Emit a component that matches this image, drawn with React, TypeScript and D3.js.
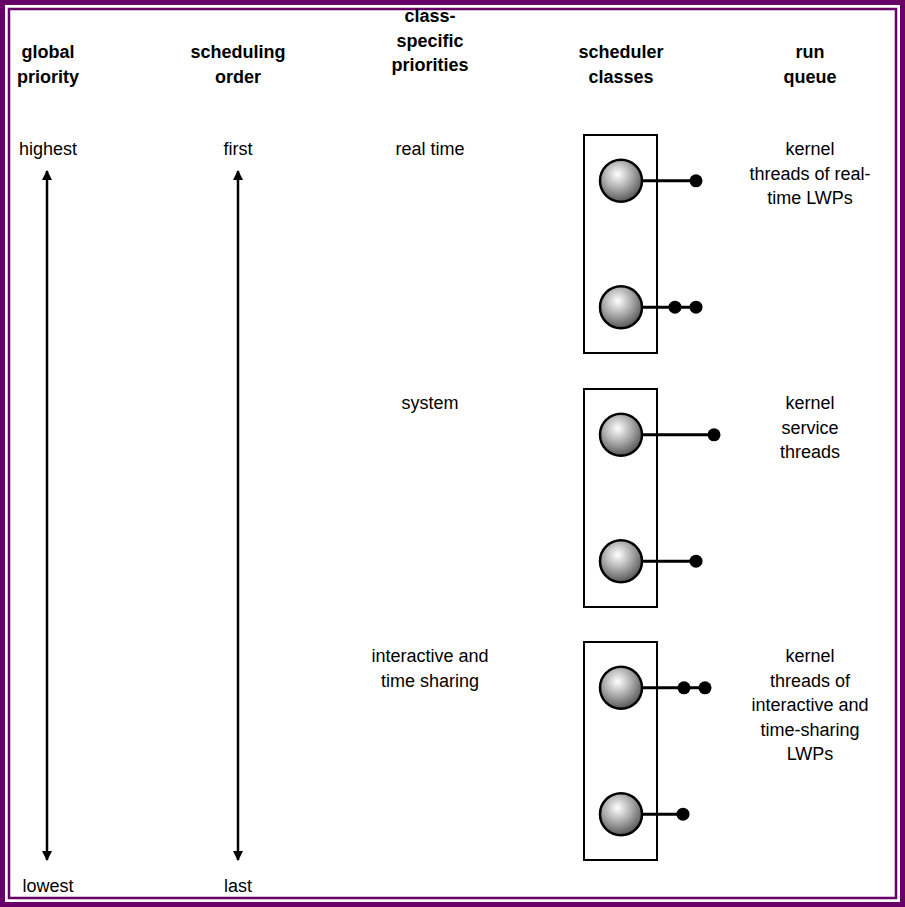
import React from 'react'
import * as d3 from 'd3'

const headers = [
  { x: 48, lines: ['global', 'priority'], y: 58 },
  { x: 238, lines: ['scheduling', 'order'], y: 58 },
  { x: 430, lines: ['class-', 'specific', 'priorities'], y: 22 },
  { x: 621, lines: ['scheduler', 'classes'], y: 58 },
  { x: 810, lines: ['run', 'queue'], y: 58 },
]
const classNames = [['real time'], ['system'], ['interactive and', 'time sharing']]
const queueLabels = [
  ['kernel', 'threads of real-', 'time LWPs'],
  ['kernel', 'service', 'threads'],
  ['kernel', 'threads of', 'interactive and', 'time-sharing', 'LWPs'],
]
// dot x positions per ball (top, bottom) for each class
const dots = [
  [[696], [675, 696]],
  [[714], [696]],
  [[684, 705], [683]],
]
const boxTops = [135, 389, 642]

export default function App() {
  const W = 905
  const H = 907
  const y = d3.scaleLinear().domain([0, 1]).range([135, 353])
  const purple = '#660066'
  const font = '"Liberation Sans", Arial, sans-serif'
  const lh = 24.5
  return (
    <svg width={W} height={H} style={{ position: 'absolute', left: 0, top: 0 }} fontFamily={font} fontSize={18}>
      <defs>
        <radialGradient id="ball" cx="0.42" cy="0.35" r="0.7">
          <stop offset="0" stopColor="#ffffff" />
          <stop offset="0.5" stopColor="#a8a8a8" />
          <stop offset="1" stopColor="#4a4a4a" />
        </radialGradient>
        <marker id="ah" viewBox="0 0 10 10" refX="9" refY="5" markerWidth="10" markerHeight="10" markerUnits="userSpaceOnUse" orient="auto-start-reverse">
          <path d="M0,0 L10,5 L0,10 z" fill="#000" />
        </marker>
      </defs>
      <rect x={0} y={0} width={W} height={H} fill="#fff" />
      <rect x={2.5} y={2.5} width={W - 5} height={H - 5} fill="none" stroke={purple} strokeWidth={5} />
      <rect x={9} y={9} width={W - 18} height={H - 18} fill="none" stroke={purple} strokeWidth={2.5} />
      {headers.map((h, i) => (
        <text key={i} x={h.x} textAnchor="middle" fontWeight="bold">
          {h.lines.map((l, j) => (
            <tspan key={j} x={h.x} y={h.y + j * lh}>{l}</tspan>
          ))}
        </text>
      ))}
      <text x={48} y={155} textAnchor="middle">highest</text>
      <text x={238} y={155} textAnchor="middle">first</text>
      <text x={48} y={892} textAnchor="middle">lowest</text>
      <text x={238} y={892} textAnchor="middle">last</text>
      {[47, 238].map((x) => (
        <line key={x} x1={x} x2={x} y1={171} y2={860} stroke="#000" strokeWidth={2.5} markerStart="url(#ah)" markerEnd="url(#ah)" />
      ))}
      {boxTops.map((top, i) => {
        const off = top - boxTops[0]
        const balls = [y(0.21) + off, y(0.79) + off]
        return (
          <g key={i}>
            <text x={430} textAnchor="middle">
              {classNames[i].map((l, j) => (
                <tspan key={j} x={430} y={top + 20 + j * lh}>{l}</tspan>
              ))}
            </text>
            <text x={810} textAnchor="middle">
              {queueLabels[i].map((l, j) => (
                <tspan key={j} x={810} y={top + 20 + j * lh}>{l}</tspan>
              ))}
            </text>
            <rect x={584} y={top} width={73} height={y(1) - y(0)} fill="none" stroke="#000" strokeWidth={2} />
            {balls.map((by, k) => {
              const ds = dots[i][k]
              return (
                <g key={k}>
                  <line x1={621} x2={d3.max(ds)!} y1={by} y2={by} stroke="#000" strokeWidth={3} />
                  {ds.map((dx) => (
                    <circle key={dx} cx={dx} cy={by} r={6.5} fill="#000" />
                  ))}
                  <circle cx={621} cy={by} r={21} fill="url(#ball)" stroke="#000" strokeWidth={2.5} />
                </g>
              )
            })}
          </g>
        )
      })}
    </svg>
  )
}
